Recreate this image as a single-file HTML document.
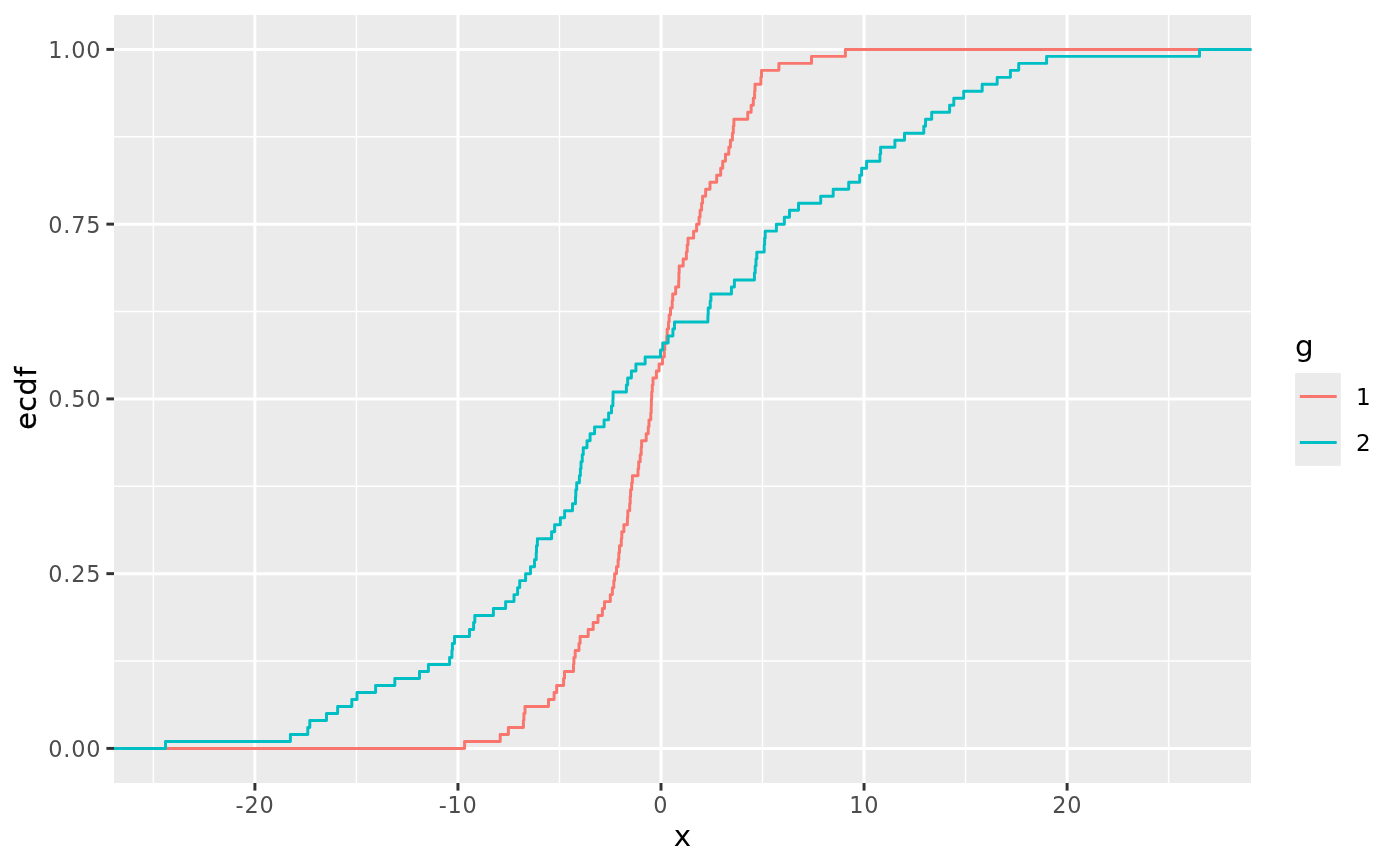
<!DOCTYPE html>
<html lang="en"><head><meta charset="utf-8"><title>ecdf</title>
<style>html,body{margin:0;padding:0;background:#fff;}body{width:1400px;height:866px;overflow:hidden;}svg{display:block;}text{font-family:"DejaVu Sans","Liberation Sans",sans-serif;}.at{font-size:23.2px;fill:#4D4D4D;letter-spacing:0.82px;}.ti{font-size:29.4px;fill:#000;}.lt{font-size:23.1px;fill:#000;}</style></head><body>
<svg width="1400" height="866" viewBox="0 0 1400 866">
<rect x="0" y="0" width="1400" height="866" fill="#FFFFFF"/>
<rect x="114" y="15" width="1137" height="768" fill="#EBEBEB"/>
<clipPath id="cp"><rect x="114" y="15" width="1137.8" height="768"/></clipPath>
<g stroke="#FFFFFF" stroke-width="1.48" fill="none"><path d="M114 661.02H1251"/><path d="M114 486.27H1251"/><path d="M114 311.52H1251"/><path d="M114 136.77H1251"/><path d="M153.38 15V783"/><path d="M356.43 15V783"/><path d="M559.48 15V783"/><path d="M762.52 15V783"/><path d="M965.58 15V783"/><path d="M1168.62 15V783"/></g>
<g stroke="#FFFFFF" stroke-width="2.96" fill="none"><path d="M114 748.40H1251"/><path d="M114 573.65H1251"/><path d="M114 398.90H1251"/><path d="M114 224.15H1251"/><path d="M114 49.40H1251"/><path d="M254.90 15V783"/><path d="M457.95 15V783"/><path d="M661.00 15V783"/><path d="M864.05 15V783"/><path d="M1067.10 15V783"/></g>
<g fill="none" stroke-width="2.96" stroke-linejoin="round" stroke-linecap="butt" clip-path="url(#cp)">
<path stroke="#F8766D" d="M114.00 748.40H464.60V741.41H500.20V734.42H508.40V727.43H523.40V720.44H523.90V713.45H525.00V706.46H548.50V699.47H554.10V692.48H556.70V685.49H563.60V678.50H564.50V671.51H573.50V664.52H573.90V657.53H575.20V650.54H579.00V643.55H580.10V636.56H588.20V629.57H593.20V622.58H598.00V615.59H602.40V608.60H604.50V601.61H610.30V594.62H612.40V587.63H613.80V580.64H614.60V573.65H616.50V566.66H618.10V559.67H618.80V552.68H619.50V545.69H621.30V538.70H621.80V531.71H623.90V524.72H627.40V517.73H627.80V510.74H629.70V503.75H630.20V496.76H630.60V489.77H631.70V482.78H632.40V475.79H638.00V468.80H638.70V461.81H640.20V454.82H641.20V447.83H641.60V440.84H646.20V433.85H648.25V426.86H649.00V419.87H650.80V412.88H651.20V405.89H651.40V398.90H651.70V391.91H652.30V384.92H653.00V377.93H656.40V370.94H659.05V363.95H662.50V356.96H664.30V349.97H664.80V342.98H666.80V335.99H667.20V329.00H668.50V322.01H669.15V315.02H670.50V308.03H672.20V301.04H672.70V294.05H675.65V287.06H678.70V280.07H678.90V273.08H679.20V266.09H683.20V259.10H686.40V252.11H687.20V245.12H688.00V238.13H693.60V231.14H696.60V224.15H699.10V217.16H700.10V210.17H701.60V203.18H702.60V196.19H705.65V189.20H710.00V182.21H716.70V175.22H720.70V168.23H722.70V161.24H725.45V154.25H728.80V147.26H730.40V140.27H732.40V133.28H733.30V126.29H733.90V119.30H747.75V112.31H751.15V105.32H753.30V98.33H754.60V91.34H755.00V84.35H760.90V77.36H761.50V70.37H778.90V63.38H811.50V56.39H845.40V49.40H1251.60"/>
<path stroke="#00BFC4" d="M114.00 748.40H165.50V741.41H290.40V734.42H307.80V727.43H309.80V720.44H326.50V713.45H337.65V706.46H351.80V699.47H357.00V692.48H375.60V685.49H394.80V678.50H419.50V671.51H428.40V664.52H449.60V657.53H451.90V650.54H452.40V643.55H454.50V636.56H469.50V629.57H473.60V622.58H474.80V615.59H493.40V608.60H505.60V601.61H514.00V594.62H517.60V587.63H519.70V580.64H525.60V573.65H530.50V566.66H534.50V559.67H536.20V552.68H536.50V545.69H537.40V538.70H551.60V531.71H554.60V524.72H560.35V517.73H564.60V510.74H572.50V503.75H575.50V496.76H575.80V489.77H576.70V482.78H579.40V475.79H580.40V468.80H581.00V461.81H582.25V454.82H583.25V447.83H587.00V440.84H590.10V433.85H594.60V426.86H604.10V419.87H608.60V412.88H611.50V405.89H612.90V398.90H613.10V391.91H626.40V384.92H627.65V377.93H631.40V370.94H635.90V363.95H645.15V356.96H660.50V349.97H662.75V342.98H668.15V335.99H672.90V329.00H674.50V322.01H707.90V315.02H708.20V308.03H710.20V301.04H710.90V294.05H731.45V287.06H734.40V280.07H754.45V273.08H755.20V266.09H756.00V259.10H756.80V252.11H764.20V245.12H764.60V238.13H765.20V231.14H776.40V224.15H784.35V217.16H789.50V210.17H798.50V203.18H820.70V196.19H833.20V189.20H848.70V182.21H859.70V175.22H861.60V168.23H866.60V161.24H879.90V154.25H880.60V147.26H894.90V140.27H904.50V133.28H923.80V126.29H925.55V119.30H931.70V112.31H949.60V105.32H953.80V98.33H963.70V91.34H982.20V84.35H997.20V77.36H1010.40V70.37H1018.70V63.38H1046.60V56.39H1199.50V49.40H1251.60"/>
</g>
<g stroke="#333333" stroke-width="2.96" fill="none"><path d="M106.40 748.40H114"/><path d="M106.40 573.65H114"/><path d="M106.40 398.90H114"/><path d="M106.40 224.15H114"/><path d="M106.40 49.40H114"/><path d="M254.90 783V790.60"/><path d="M457.95 783V790.60"/><path d="M661.00 783V790.60"/><path d="M864.05 783V790.60"/><path d="M1067.10 783V790.60"/></g>
<text class="at" transform="translate(101.3 756.80) scale(0.965 1)" text-anchor="end">0.00</text>
<text class="at" transform="translate(101.3 582.05) scale(0.965 1)" text-anchor="end">0.25</text>
<text class="at" transform="translate(101.3 407.30) scale(0.965 1)" text-anchor="end">0.50</text>
<text class="at" transform="translate(101.3 232.55) scale(0.965 1)" text-anchor="end">0.75</text>
<text class="at" transform="translate(101.3 57.80) scale(0.965 1)" text-anchor="end">1.00</text>
<text class="at" transform="translate(255.05 812.8) scale(0.965 1)" text-anchor="middle">-20</text>
<text class="at" transform="translate(458.10 812.8) scale(0.965 1)" text-anchor="middle">-10</text>
<text class="at" transform="translate(660.75 812.8) scale(0.965 1)" text-anchor="middle">0</text>
<text class="at" transform="translate(864.20 812.8) scale(0.965 1)" text-anchor="middle">10</text>
<text class="at" transform="translate(1067.25 812.8) scale(0.965 1)" text-anchor="middle">20</text>
<text class="ti" transform="translate(682.5 845.9) scale(1.045 1)" style="font-size:28.1px" text-anchor="middle">x</text>
<text class="ti" transform="translate(36.1 398.0) rotate(-90)" style="font-size:28.4px;letter-spacing:0.6px;stroke:#000;stroke-width:0.35px" text-anchor="middle">ecdf</text>
<text class="ti" transform="translate(1294.9 355.8) scale(1.045 1)" style="font-size:28.1px">g</text>
<rect x="1295.1" y="373" width="45.8" height="92.9" fill="#EBEBEB"/>
<path d="M1299.8 396.5H1336.7" stroke="#F8766D" stroke-width="2.96" fill="none"/>
<path d="M1299.8 442.5H1336.7" stroke="#00BFC4" stroke-width="2.96" fill="none"/>
<text class="lt" x="1355.9" y="405">1</text>
<text class="lt" x="1355.9" y="451.4">2</text>
</svg></body></html>
